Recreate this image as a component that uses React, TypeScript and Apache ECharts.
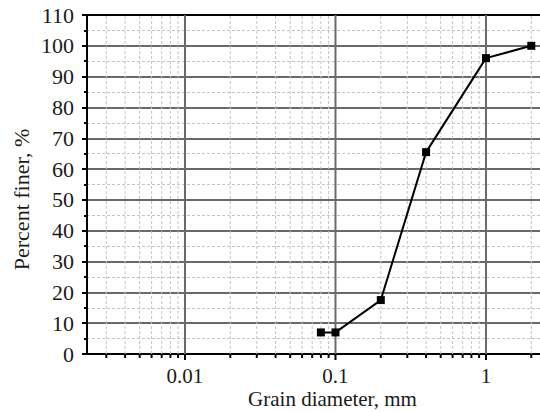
import React, { useEffect, useRef } from "react";
import * as echarts from "echarts";

// Data
const grainSize = [0.08, 0.1, 0.2, 0.4, 1, 2];
const percentFiner = [7, 7, 17.5, 65.5, 96, 100];

// Axis settings
const xMin = 0.002233;
const xMax = 2.285;
const yMin = 0;
const yMax = 110;
const yInterval = 10;
const xMajorTicks = [0.01, 0.1, 1];
const xMajorLabels = ["0.01", "0.1", "1"];
const xMinorTicks = [
  0.003, 0.004, 0.005, 0.006, 0.007, 0.008, 0.009,
  0.02, 0.03, 0.04, 0.05, 0.06, 0.07, 0.08, 0.09,
  0.2, 0.3, 0.4, 0.5, 0.6, 0.7, 0.8, 0.9,
  2,
];

const FONT = "'Liberation Serif', 'Times New Roman', serif";

export default function App() {
  const ref = useRef<HTMLDivElement>(null);

  useEffect(() => {
    if (!ref.current) return;
    const chart = echarts.init(ref.current, null, { renderer: "svg" });

    const gridData = [
      ...xMajorTicks.map((v) => [v, 1]),
      ...xMinorTicks.map((v) => [v, 0]),
    ];

    const option: any = {
      animation: false,
      backgroundColor: "#fff",
      grid: {
        left: 87,
        right: 0,
        top: 15,
        bottom: 58,
        containLabel: false,
        outerBoundsMode: "none",
      },
      xAxis: [
        {
          type: "log",
          min: xMin,
          max: xMax,
          logBase: 10,
          name: "Grain diameter, mm",
          nameLocation: "middle",
          nameGap: 34,
          nameMoveOverlap: false,
          nameTextStyle: {
            fontFamily: FONT,
            fontSize: 21,
            lineHeight: 21,
            color: "#1a1a1a",
            padding: [0, 0, 0, 38],
          },
          axisLine: { show: true, onZero: false, lineStyle: { color: "#000", width: 2 } },
          axisTick: { show: false },
          splitLine: { show: false },
          axisLabel: {
            fontFamily: FONT,
            fontSize: 21,
            lineHeight: 20,
            color: "#1a1a1a",
            margin: 12,
            formatter: (v: number) => {
              for (let i = 0; i < xMajorTicks.length; i++) {
                if (Math.abs(v - xMajorTicks[i]) / xMajorTicks[i] < 1e-6) return xMajorLabels[i];
              }
              return "";
            },
          },
        },
        {
          type: "log",
          position: "top",
          min: xMin,
          max: xMax,
          axisLine: { show: true, onZero: false, lineStyle: { color: "#000", width: 2 } },
          axisTick: { show: false },
          axisLabel: { show: false },
          splitLine: { show: false },
        },
      ],
      yAxis: {
        type: "value",
        min: yMin,
        max: yMax,
        interval: yInterval,
        name: "Percent finer, %",
        nameLocation: "middle",
        nameGap: 55,
        nameMoveOverlap: false,
        nameTextStyle: {
          fontFamily: FONT,
          fontSize: 22,
          color: "#1a1a1a",
          padding: [0, 30, 0, 0],
        },
        axisLine: { show: true, onZero: false, lineStyle: { color: "#000", width: 2 } },
        axisTick: { show: true, length: 5, lineStyle: { color: "#000", width: 2 } },
        minorTick: { show: true, splitNumber: 2, length: 3, lineStyle: { color: "#000", width: 2 } },
        splitLine: { show: true, lineStyle: { color: "#6a6a6a", width: 1.8 } },
        minorSplitLine: { show: true, lineStyle: { color: "#c4c4c4", width: 1, type: [3, 2] } },
        axisLabel: {
          fontFamily: FONT,
          fontSize: 22,
          color: "#1a1a1a",
          margin: 13,
        },
      },
      series: [
        {
          type: "custom",
          xAxisIndex: 0,
          silent: true,
          z: 1,
          clip: false,
          encode: { x: 0, y: -1 },
          data: gridData,
          renderItem: (params: any, api: any) => {
            const v = api.value(0);
            const major = api.value(1) === 1;
            const b = api.coord([v, yMin]);
            const t = api.coord([v, yMax]);
            return {
              type: "group",
              children: [
                {
                  type: "line",
                  shape: { x1: b[0], y1: b[1], x2: t[0], y2: t[1] },
                  style: {
                    stroke: major ? "#6a6a6a" : "#c4c4c4",
                    lineWidth: major ? 2 : 1,
                    lineDash: major ? null : [3, 2],
                  },
                },
                {
                  type: "line",
                  shape: { x1: b[0], y1: b[1], x2: b[0], y2: b[1] + (major ? 6 : 4) },
                  style: { stroke: "#000", lineWidth: 2 },
                },
              ],
            };
          },
        },
        {
          type: "line",
          xAxisIndex: 0,
          z: 5,
          data: grainSize.map((g, i) => [g, percentFiner[i]]),
          symbol: "rect",
          symbolSize: 8,
          itemStyle: { color: "#000" },
          lineStyle: { color: "#000", width: 2 },
        },
      ],
    };

    chart.setOption(option);
    return () => chart.dispose();
  }, []);

  return <div ref={ref} style={{ width: 540, height: 412, position: "absolute", left: 0, top: 0 }} />;
}
